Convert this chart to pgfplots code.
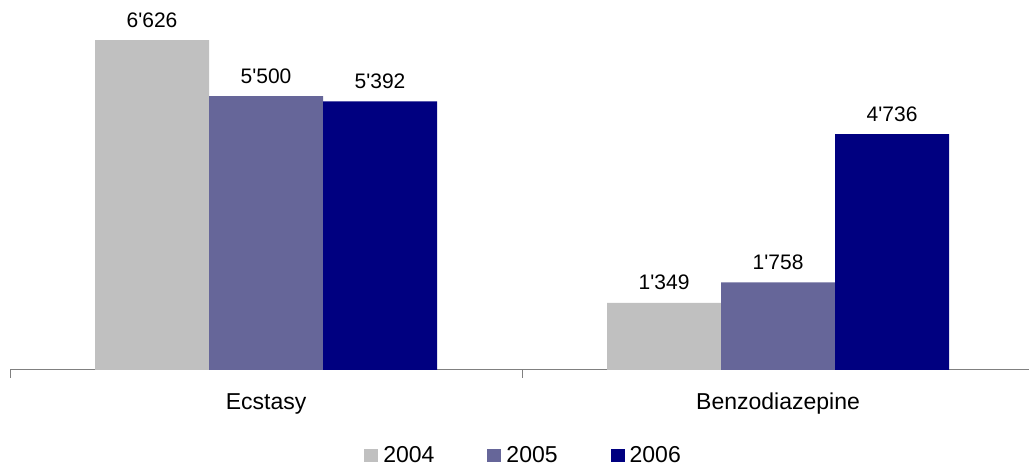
\documentclass[border=0pt]{standalone}
\usepackage{pgfplots}
\pgfplotsset{compat=1.18}
\usepackage{fontspec}
\setmainfont{Liberation Sans}[Ligatures=TeXOff]
\definecolor{c2004}{HTML}{C0C0C0}
\definecolor{c2005}{HTML}{666699}
\definecolor{c2006}{HTML}{000080}
\definecolor{axisgray}{HTML}{808080}
\begin{document}
\begin{tikzpicture}
\useasboundingbox (0,0) rectangle (1029pt,470pt);
\begin{axis}[
  at={(10pt,100pt)}, anchor=south west,
  scale only axis, width=1019pt, height=370pt,
  xmin=0, xmax=1.990, ymin=0, ymax=7430,
  axis x line*=bottom, axis y line=none,
  x axis line style={-, draw=axisgray, line width=1pt},
  ybar=0pt, bar width=114pt,
  xtick={0.5,1.5}, xticklabels={Ecstasy,Benzodiazepine},
  major tick length=0pt,
  xticklabel style={anchor=base, yshift=-40pt, font=\fontsize{23}{27}\selectfont},
  extra x ticks={0,1}, extra x tick labels={},
  extra x tick style={major tick length=8pt, tick align=outside,
    tick style={draw=axisgray, line width=1pt}},
  ytick=\empty,
  /pgf/number format/assume math mode=true,
  /pgf/number format/1000 sep={'},
  nodes near coords,
  nodes near coords style={anchor=base, yshift=13pt, inner sep=0pt,
    font=\fontsize{21}{25}\selectfont, text=black},
  legend style={at={(0.504,-0.23)}, anchor=center, draw=none, legend columns=3,
    font=\fontsize{23}{27}\selectfont, nodes={inner sep=2pt},
    /tikz/every odd column/.append style={column sep=3pt},
    /tikz/every even column/.append style={column sep=51pt}},
  legend image code/.code={\fill[#1] (0pt,-6.5pt) rectangle (14pt,6.5pt);},
]
\addplot[fill=c2004, draw=none] coordinates {(0.5,6626) (1.5,1349)};
\addplot[fill=c2005, draw=none] coordinates {(0.5,5500) (1.5,1758)};
\addplot[fill=c2006, draw=none] coordinates {(0.5,5392) (1.5,4736)};
\legend{2004,2005,2006}
\end{axis}
\end{tikzpicture}
\end{document}
